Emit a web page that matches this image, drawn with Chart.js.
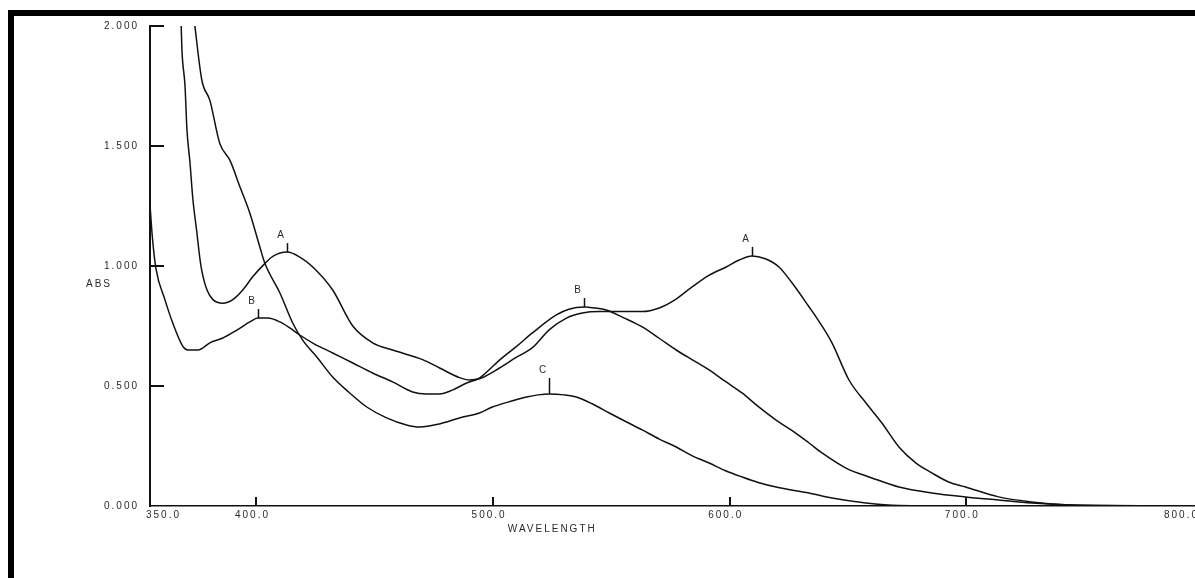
<!DOCTYPE html>
<html>
<head>
<meta charset="utf-8">
<script src="https://cdn.jsdelivr.net/npm/chart.js@4.4.1/dist/chart.umd.min.js"></script>
<style>
  html, body { margin: 0; padding: 0; background: #fff; overflow: hidden; width: 1195px; height: 578px; }
  #frame { position: absolute; left: 8px; top: 10px; width: 1200px; height: 580px;
           border-left: 6px solid #000; border-top: 6px solid #000; box-sizing: border-box; }
  #plot { position: absolute; left: 0; top: 0; }
</style>
</head>
<body>
<div id="frame"></div>
<canvas id="plot" width="1206" height="578"></canvas>
<script>
// Absorption spectra, three samples (A, B, C)
const wavelengthsA = [368.1, 368.5, 369.8, 370.6, 371.9, 373.1, 374.8, 376.1, 376.9, 379.1, 381.6, 385.8, 390.0, 394.2, 398.4, 403.5, 406.9, 413.0, 418.3, 423.8, 432.2, 440.7, 449.1, 457.5, 470.2, 477.4, 485.8, 490.0, 494.2, 502.7, 509.9, 516.6, 523.8, 531.0, 537.7, 544.9, 549.1, 556.0, 563.0, 570.2, 577.0, 584.1, 591.0, 598.5, 604.0, 609.4, 615.0, 620.8, 626.3, 633.5, 637.0, 643.2, 650.4, 657.5, 664.3, 671.5, 678.6, 685.4, 692.5, 699.7, 713.6, 727.6, 741.9, 760.0, 800.0];
const absorbanceA  = [2.03, 1.90, 1.75, 1.57, 1.43, 1.28, 1.14, 1.03, 0.98, 0.90, 0.86, 0.845, 0.86, 0.90, 0.955, 1.01, 1.04, 1.058, 1.037, 0.996, 0.90, 0.75, 0.68, 0.65, 0.61, 0.575, 0.535, 0.525, 0.53, 0.575, 0.62, 0.66, 0.735, 0.783, 0.804, 0.81, 0.81, 0.81, 0.81, 0.825, 0.86, 0.913, 0.96, 0.996, 1.025, 1.042, 1.03, 0.996, 0.93, 0.83, 0.78, 0.68, 0.525, 0.43, 0.346, 0.246, 0.18, 0.138, 0.10, 0.079, 0.038, 0.017, 0.005, 0.002, 0.0];

const wavelengthsB = [355.0, 356.0, 357.5, 361.3, 364.7, 368.9, 371.0, 375.3, 380.3, 385.8, 391.7, 397.2, 400.6, 404.8, 409.9, 414.1, 418.3, 423.8, 432.2, 440.7, 449.1, 457.5, 466.0, 471.9, 477.4, 482.8, 488.8, 494.2, 502.7, 509.9, 516.6, 526.7, 532.0, 538.5, 543.0, 547.8, 555.0, 563.0, 570.0, 577.4, 584.0, 591.3, 598.0, 605.2, 612.0, 619.6, 627.0, 633.5, 639.0, 649.1, 660.1, 671.5, 685.4, 699.7, 713.6, 727.6, 748.7, 800.0];
const absorbanceB  = [1.254, 1.12, 0.99, 0.86, 0.76, 0.665, 0.65, 0.65, 0.68, 0.70, 0.733, 0.767, 0.783, 0.783, 0.767, 0.742, 0.7125, 0.679, 0.6375, 0.596, 0.554, 0.517, 0.475, 0.467, 0.467, 0.483, 0.5125, 0.533, 0.608, 0.665, 0.721, 0.796, 0.82, 0.829, 0.825, 0.817, 0.785, 0.746, 0.70, 0.65, 0.61, 0.567, 0.52, 0.471, 0.415, 0.358, 0.31, 0.2625, 0.221, 0.158, 0.117, 0.079, 0.054, 0.0375, 0.025, 0.0125, 0.003, 0.0];

const wavelengthsC = [373.6, 376.9, 380.3, 384.5, 388.8, 393.0, 397.2, 401.4, 403.5, 409.9, 415.3, 419.6, 425.5, 432.2, 439.4, 446.6, 455.0, 463.4, 468.9, 477.4, 485.8, 494.2, 499.7, 507.0, 514.1, 519.0, 523.8, 530.0, 535.2, 542.0, 549.1, 556.0, 563.0, 570.0, 577.4, 584.0, 591.3, 598.0, 605.2, 612.0, 619.6, 633.5, 643.2, 657.5, 671.5, 700.0, 800.0];
const absorbanceC  = [2.03, 1.775, 1.69, 1.51, 1.44, 1.33, 1.22, 1.08, 1.0125, 0.8875, 0.7625, 0.69, 0.621, 0.5375, 0.471, 0.4125, 0.367, 0.3375, 0.329, 0.342, 0.367, 0.3875, 0.4125, 0.435, 0.454, 0.463, 0.467, 0.463, 0.454, 0.425, 0.3875, 0.352, 0.317, 0.28, 0.246, 0.21, 0.179, 0.148, 0.121, 0.098, 0.079, 0.054, 0.033, 0.0125, 0.002, 0.0, 0.0];

// Peak markers
const peakLetters     = ['A', 'B', 'B', 'A', 'C'];
const peakWavelengths = [413.0, 400.6, 538.5, 609.4, 523.8];
const peakAbsorbance  = [1.058, 0.783, 0.829, 1.042, 0.467];

// Axes
const xAxisStart   = 355;
const xAxisEnd     = 800;
const xOriginLabel = '350.0';
const xTickValues  = [400, 500, 600, 700, 800];
const xTickLabels  = ['400.0', '500.0', '600.0', '700.0', '800.0'];
const yTickValues  = [0, 0.5, 1, 1.5, 2];
const yTickLabels  = ['0.000', '0.500', '1.000', '1.500', '2.000'];
const xTitle = 'WAVELENGTH';
const yTitle = 'ABS';

const FONT_FAMILY = '"Liberation Sans", Arial, Helvetica, sans-serif';
const INK = '#111';
const TEXT = '#2a2a2a';

const toPoints = (xs, ys) => xs.map((v, i) => ({ x: v, y: ys[i] }));

// plotter-style lettering is widely spaced
const letterSpacing = {
  id: 'letterSpacing',
  beforeUpdate(chart) { chart.ctx.letterSpacing = '2px'; },
  beforeDraw(chart) { chart.ctx.letterSpacing = '2px'; }
};

// tick marks point into the plot, peak flags and axis captions
const decorations = {
  id: 'decorations',
  afterDraw(chart) {
    const { ctx, chartArea: a, scales: { x, y } } = chart;
    ctx.save();
    ctx.strokeStyle = INK;
    ctx.lineWidth = 2;
    ctx.beginPath();
    xTickValues.forEach(v => {
      const px = Math.round(x.getPixelForValue(v));
      ctx.moveTo(px, a.bottom);
      ctx.lineTo(px, a.bottom - 9);
    });
    yTickValues.forEach(v => {
      if (v === 0) return;
      const py = Math.round(y.getPixelForValue(v));
      ctx.moveTo(a.left, py);
      ctx.lineTo(a.left + 14, py);
    });
    ctx.stroke();

    ctx.font = '10px ' + FONT_FAMILY;
    ctx.letterSpacing = '2px';
    ctx.fillStyle = TEXT;
    ctx.textAlign = 'center';
    ctx.textBaseline = 'middle';

    ctx.lineWidth = 1.5;
    peakLetters.forEach((letter, i) => {
      const px = Math.round(x.getPixelForValue(peakWavelengths[i])) + 0.5;
      const py = y.getPixelForValue(peakAbsorbance[i]);
      const len = letter === 'C' ? 16 : 9;
      ctx.beginPath();
      ctx.moveTo(px, py);
      ctx.lineTo(px, py - len);
      ctx.stroke();
      ctx.fillText(letter, px - 6, py - len - 8);
    });

    ctx.fillText(xTitle, x.getPixelForValue(525), a.bottom + 23);
    ctx.fillText(yTitle, a.left - 51, y.getPixelForValue(0.925));
    ctx.restore();
  }
};

const lineStyle = { borderColor: INK, borderWidth: 1.5, pointRadius: 0, fill: false, cubicInterpolationMode: 'monotone' };

new Chart(document.getElementById('plot'), {
  type: 'line',
  data: {
    datasets: [
      Object.assign({ label: 'A', data: toPoints(wavelengthsA, absorbanceA) }, lineStyle),
      Object.assign({ label: 'B', data: toPoints(wavelengthsB, absorbanceB) }, lineStyle),
      Object.assign({ label: 'C', data: toPoints(wavelengthsC, absorbanceC) }, lineStyle)
    ]
  },
  options: {
    responsive: false,
    animation: false,
    devicePixelRatio: 1,
    layout: { padding: { top: 26, right: 2, bottom: 0, left: 0 } },
    plugins: { legend: { display: false }, tooltip: { enabled: false } },
    scales: {
      x: {
        type: 'linear',
        min: xAxisStart,
        max: xAxisEnd,
        afterBuildTicks(scale) {
          scale.ticks = [{ value: xAxisStart }].concat(xTickValues.map(v => ({ value: v })));
        },
        afterFit(scale) { scale.height = 72; },
        grid: { display: false, drawTicks: false },
        border: { display: true, color: INK, width: 1.5 },
        ticks: {
          align: 'inner',
          labelOffset: -4,
          padding: 3,
          autoSkip: false,
          maxRotation: 0,
          color: TEXT,
          font: { family: FONT_FAMILY, size: 10 },
          callback: (v, i) => (i === 0 ? xOriginLabel : xTickLabels[i - 1])
        }
      },
      y: {
        min: 0,
        max: 2,
        afterBuildTicks(scale) {
          scale.ticks = yTickValues.map(v => ({ value: v }));
        },
        afterFit(scale) { scale.width = 150; },
        grid: { display: false, drawTicks: false },
        border: { display: true, color: INK, width: 2 },
        ticks: {
          padding: 11,
          color: TEXT,
          font: { family: FONT_FAMILY, size: 10 },
          callback: (v, i) => yTickLabels[i]
        }
      }
    }
  },
  plugins: [letterSpacing, decorations]
});
</script>
</body>
</html>
